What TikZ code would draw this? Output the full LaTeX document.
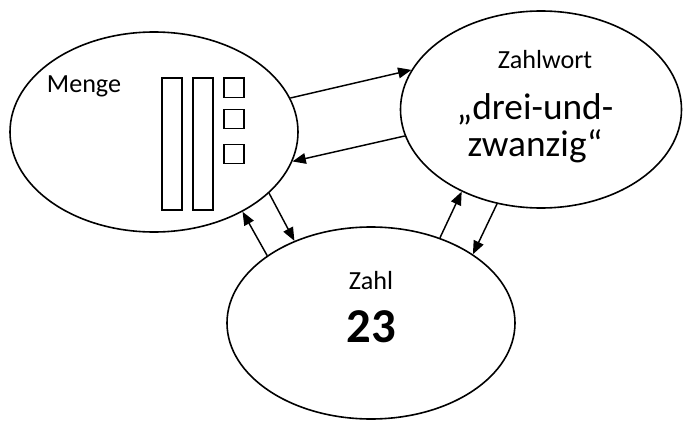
\documentclass[tikz,border=0pt]{standalone}
\usepackage{fontspec}
\setmainfont{Carlito}
\usetikzlibrary{shapes.geometric,arrows.meta}
\begin{document}
\begin{tikzpicture}[x=0.75pt,y=-0.75pt,
  blob/.style={draw,ellipse,line width=1.2pt,inner sep=0pt},
  bar/.style={draw,line width=1pt,inner sep=0pt},
  link/.style={line width=1.1pt,-{Triangle[length=10pt,width=8pt]}},
  lbl/.style={anchor=base,inner sep=0pt}]
\useasboundingbox (0,0) rectangle (683,421);
\node[blob,minimum width=216pt,minimum height=150pt] (menge) at (154,132) {};
\node[blob,minimum width=210.75pt,minimum height=147.75pt] (wort) at (541,109.5) {};
\node[blob,minimum width=216pt,minimum height=144pt] (zahl) at (371,323) {};
% blocks
\node[bar,minimum width=15pt,minimum height=99pt] (b1) at (172,144) {};
\node[bar,minimum width=15pt,minimum height=99pt] (b2) at (203,144) {};
\node[bar,minimum width=15pt,minimum height=14.5pt] (s1) at (234,87.5) {};
\node[bar,minimum width=15pt,minimum height=14.5pt] (s2) at (234,119) {};
\node[bar,minimum width=15pt,minimum height=14.5pt] (s3) at (234,154) {};
% labels
\node[lbl,font=\fontsize{19.6}{23}\selectfont] (tm) at (84,92) {Menge};
\node[lbl,font=\fontsize{19.6}{23}\selectfont] (tw) at (545,68) {Zahlwort};
\node[lbl,font=\fontsize{28}{33}\selectfont] (tw1) at (535,119) {„drei-und-};
\node[lbl,font=\fontsize{28}{33}\selectfont] (tw2) at (535,156) {zwanzig“};
\node[lbl,font=\fontsize{19.6}{23}\selectfont] (tz) at (371,289) {Zahl};
\node[lbl,font=\fontsize{36.5}{42}\selectfont\bfseries] (tz2) at (371,342) {23};
% arrows
\draw[link] (menge.14.1) -- (wort.163.3);
\draw[link] (wort.191) -- (menge.-12.6);
\draw[link] (menge.-28.9) -- (zahl.133.2);
\draw[link] (zahl.147.8) -- (menge.-42.5);
\draw[link] (zahl.51.3) -- (wort.226.6);
\draw[link] (wort.245) -- (zahl.34.8);
\end{tikzpicture}
\end{document}
